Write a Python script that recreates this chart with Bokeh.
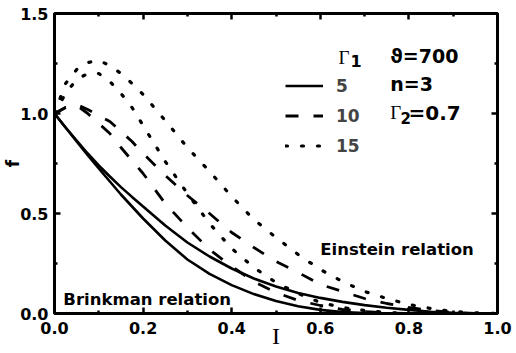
from bokeh.plotting import figure
from bokeh.models import (Range1d, LinearAxis, FixedTicker, PrintfTickFormatter,
                          CustomJSTickFormatter, Label, Legend, LegendItem)
from bokeh.embed import file_html
from bokeh.resources import INLINE

# ---- data ----
I = [0.0, 0.025, 0.05, 0.075, 0.1, 0.125, 0.15, 0.175, 0.2, 0.25, 0.3, 0.35, 0.4,
     0.45, 0.5, 0.55, 0.6, 0.65, 0.7, 0.75, 0.8, 0.85, 0.9, 0.95, 1.0]

# Brinkman relation (lower curve of each pair)
f_brink_5 = [1.0, 0.93, 0.86, 0.792, 0.725, 0.66, 0.595, 0.535, 0.475, 0.365, 0.27, 0.198, 0.142,
             0.097, 0.062, 0.036, 0.018, 0.007, 0.002, 0.0, 0.0, 0.0, 0.0, 0.0, 0.0]
f_brink_10 = [1.0, 1.03, 1.04, 1.0, 0.95, 0.9, 0.83, 0.765, 0.70, 0.55, 0.43, 0.32, 0.235,
              0.16, 0.105, 0.065, 0.04, 0.02, 0.01, 0.003, 0.0, 0.0, 0.0, 0.0, 0.0]
f_brink_15 = [1.0, 1.1, 1.17, 1.2, 1.2, 1.16, 1.1, 1.03, 0.94, 0.76, 0.6, 0.45, 0.325,
              0.23, 0.155, 0.1, 0.055, 0.03, 0.015, 0.005, 0.0, 0.0, 0.0, 0.0, 0.0]

# Einstein relation (upper curve of each pair)
f_einst_5 = [1.0, 0.93, 0.865, 0.80, 0.74, 0.685, 0.632, 0.583, 0.535, 0.44, 0.355, 0.285, 0.225,
             0.175, 0.135, 0.103, 0.078, 0.058, 0.042, 0.029, 0.018, 0.009, 0.003, 0.0, 0.0]
f_einst_10 = [1.0, 1.03, 1.045, 1.02, 0.99, 0.96, 0.91, 0.86, 0.80, 0.69, 0.59, 0.50, 0.405,
              0.33, 0.26, 0.205, 0.145, 0.11, 0.075, 0.05, 0.03, 0.015, 0.005, 0.0, 0.0]
f_einst_15 = [1.0, 1.15, 1.22, 1.255, 1.265, 1.24, 1.2, 1.15, 1.095, 0.965, 0.83, 0.71, 0.585,
              0.47, 0.38, 0.295, 0.22, 0.16, 0.11, 0.075, 0.045, 0.025, 0.01, 0.003, 0.0]

gamma1_labels = ["5", "10", "15"]
x_ticks = [0.0, 0.2, 0.4, 0.6, 0.8, 1.0]
x_minor = [0.1, 0.3, 0.5, 0.7, 0.9]
y_ticks = [0.0, 0.5, 1.0, 1.5]
y_minor = [0.25, 0.75, 1.25]

SANS = "DejaVu Sans"
SERIF = "Liberation Serif"

p = figure(width=516, height=353, output_backend="svg", toolbar_location=None,
           x_range=Range1d(0, 1), y_range=Range1d(0, 1.5),
           min_border_left=54, min_border_right=19, min_border_top=13, min_border_bottom=40)
p.xgrid.visible = False
p.ygrid.visible = False
p.background_fill_color = "white"
p.border_fill_color = "white"
p.outline_line_color = "black"
p.outline_line_width = 3


def style_axis(ax, ticks, minor, labels=True):
    ax.ticker = FixedTicker(ticks=ticks, minor_ticks=minor)
    ax.axis_line_width = 3
    ax.axis_line_color = "black"
    ax.major_tick_in = 6
    ax.major_tick_out = 0
    ax.minor_tick_in = 3
    ax.minor_tick_out = 0
    ax.major_tick_line_width = 2.5
    ax.minor_tick_line_width = 2.5
    if labels:
        ax.formatter = PrintfTickFormatter(format="%.1f")
        ax.major_label_text_font = SANS
        ax.major_label_text_font_style = "bold"
        ax.major_label_text_font_size = "16px"
        ax.major_label_text_color = "black"
    else:
        ax.formatter = CustomJSTickFormatter(code="return '';")
        ax.major_label_standoff = 0


style_axis(p.xaxis[0], x_ticks, x_minor)
style_axis(p.yaxis[0], y_ticks, y_minor)
p.xaxis[0].major_label_standoff = 8
p.yaxis[0].major_label_standoff = 6

xa = p.xaxis[0]
xa.axis_label = "I"
xa.axis_label_text_font = SERIF
xa.axis_label_text_font_style = "normal"
xa.axis_label_text_font_size = "24px"
xa.axis_label_text_color = "black"
xa.axis_label_standoff = -14

ya = p.yaxis[0]
ya.axis_label = "f"
ya.axis_label_text_font = SANS
ya.axis_label_text_font_style = "bold"
ya.axis_label_text_font_size = "17px"
ya.axis_label_text_color = "black"
ya.axis_label_standoff = -6

top = LinearAxis()
style_axis(top, x_ticks, x_minor, labels=False)
p.add_layout(top, "above")
right = LinearAxis()
style_axis(right, y_ticks, y_minor, labels=False)
p.add_layout(right, "right")

# ---- curves ----
solid_kw = dict(line_color="black", line_width=2.6)
dash_kw = dict(line_color="black", line_width=2.8, line_dash="13 15")
dot_kw = dict(line_color="black", line_width=3.2, line_dash="2 14", line_cap="round")

r5 = p.line(I, f_brink_5, **solid_kw)
p.line(I, f_einst_5, **solid_kw)
r10 = p.line(I, f_brink_10, **dash_kw)
p.line(I, f_einst_10, **dash_kw)
r15 = p.line(I, f_brink_15, **dot_kw)
p.line(I, f_einst_15, **dot_kw)

legend = Legend(items=[LegendItem(label=gamma1_labels[0], renderers=[r5]),
                       LegendItem(label=gamma1_labels[1], renderers=[r10]),
                       LegendItem(label=gamma1_labels[2], renderers=[r15])],
                location=(231, 157), orientation="vertical",
                glyph_width=38, glyph_height=21, label_height=21, spacing=9,
                label_standoff=13, padding=0, margin=0,
                border_line_color=None, background_fill_alpha=0,
                label_text_font=SANS, label_text_font_style="bold",
                label_text_font_size="17px")
p.add_layout(legend, "center")


def lab(x, y, text, font=SANS, size="16px", style="bold"):
    p.add_layout(Label(x=x, y=y, text=text, text_font=font, text_font_size=size,
                       text_font_style=style, text_color="black",
                       text_baseline="alphabetic", text_align="left"))


# Gamma_1 header
lab(0.641, 1.28, "Γ", font=SERIF, size="19px", style="normal")
lab(0.668, 1.265, "1", size="16px")
# parameters
lab(0.758, 1.29, "ϑ=700", size="19px")
lab(0.758, 1.15, "n=3", size="19px")
lab(0.758, 1.005, "Γ", font=SERIF, size="19px", style="normal")
lab(0.781, 0.98, "2", size="15px")
lab(0.799, 1.005, "=0.7", size="20px")
# relation labels
lab(0.600, 0.32, "Einstein relation", size="16.5px")
lab(0.020, 0.07, "Brinkman relation", size="16.5px")

open("out.html", "w").write(file_html(p, INLINE))
